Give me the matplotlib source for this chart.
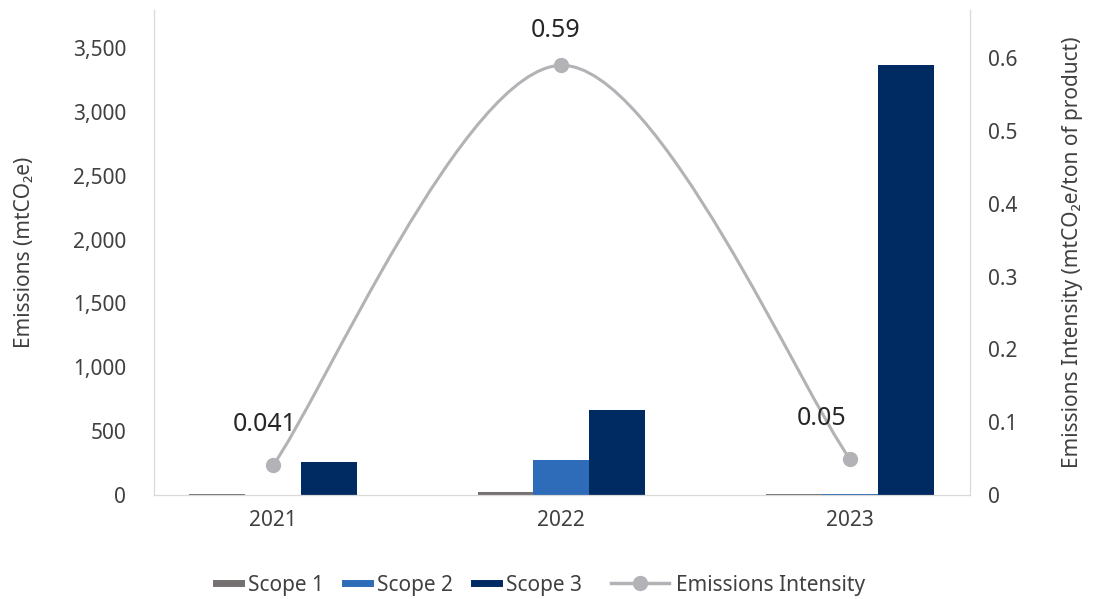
import numpy as np
import matplotlib
matplotlib.use("Agg")
import matplotlib.pyplot as plt
from matplotlib.path import Path
from matplotlib.patches import PathPatch
from matplotlib.lines import Line2D

plt.rcParams['font.family'] = ['Noto Sans', 'DejaVu Sans']

years = ['2021', '2022', '2023']
scope1 = [10, 25, 10]
scope2 = [3, 275, 6]
scope3 = [259, 668, 3365]
intensity = [0.041, 0.59, 0.05]
intensity_labels = ['0.041', '0.59', '0.05']

c1 = '#767171'
c2 = '#2E6BB8'
c3 = '#002B62'
cl = '#B3B3B7'
txt = '#404040'

fig = plt.figure(figsize=(10.93, 5.99), dpi=100)
ax = fig.add_axes([154 / 1093, 1 - 495 / 599, (970 - 154) / 1093, 485 / 599])
ax2 = ax.twinx()

x = np.arange(len(years))
w = 0.194
ax.bar(x - w, scope1, w, color=c1, zorder=2)
ax.bar(x, scope2, w, color=c2, zorder=2)
ax.bar(x + w, scope3, w, color=c3, zorder=2)

ax.set_xlim(-0.413, 2.417)
ax.set_ylim(0, 3797)
ax.set_yticks(np.arange(0, 3501, 500))
ax.set_yticklabels([f'{v:,}' for v in range(0, 3501, 500)])
ax.set_xticks(x)
ax.set_xticklabels(years)

ax2.set_ylim(0, 0.666)
ax2.set_yticks([0, 0.1, 0.2, 0.3, 0.4, 0.5, 0.6])
ax2.set_yticklabels(['0', '0.1', '0.2', '0.3', '0.4', '0.5', '0.6'])

# smoothed line (bezier through the data points, like Excel's smooth line)
pts = [(float(a), b) for a, b in zip(x, intensity)]
verts = [pts[0]]
codes = [Path.MOVETO]
for i in range(len(pts) - 1):
    p0 = pts[i - 1] if i > 0 else pts[i]
    p1 = pts[i]
    p2 = pts[i + 1]
    p3 = pts[i + 2] if i + 2 < len(pts) else pts[i + 1]
    k1 = (p1[0] + (p2[0] - p0[0]) / 6, p1[1] + (p2[1] - p0[1]) / 6)
    k2 = (p2[0] - (p3[0] - p1[0]) / 6, p2[1] - (p3[1] - p1[1]) / 6)
    verts += [k1, k2, p2]
    codes += [Path.CURVE4] * 3
ax2.add_patch(PathPatch(Path(verts, codes), facecolor='none', edgecolor=cl,
                        lw=2.2, zorder=3))
ax2.plot(x, intensity, 'o', color=cl, ms=10, zorder=4)

offs = [(-6, 29), (-4, 25), (-20, 29)]
for xi, yi, lab, (dx, dy) in zip(x, intensity, intensity_labels, offs):
    ax2.annotate(lab, (xi, yi), xytext=(dx, dy), textcoords='offset points',
                 ha='center', va='center', fontsize=18, color='#262626')

for a in (ax, ax2):
    a.spines['top'].set_visible(False)
    for s in ('left', 'right', 'bottom'):
        a.spines[s].set_color('#D9D9D9')
    a.tick_params(length=0, labelsize=15, colors=txt, pad=11)

ax.tick_params(axis='y', pad=20)
ax2.tick_params(axis='y', pad=13)

ax.set_ylabel('Emissions (mtCO₂e)', fontsize=15, color=txt)
ax2.set_ylabel('Emissions Intensity (mtCO₂e/ton of product)', fontsize=15,
               color=txt)
ax.yaxis.set_label_coords((35 - 154) / 816, 0.5)
ax2.yaxis.set_label_coords((1062 - 154) / 816, 0.5)

# legend in two pieces: short bar swatches, longer line swatch
bar_handles = [Line2D([], [], color=c, lw=5) for c in (c1, c2, c3)]
fig.legend(bar_handles, ['Scope 1', 'Scope 2', 'Scope 3'],
           loc='center left', bbox_to_anchor=(197 / 1093, 1 - 585 / 599),
           ncol=3, frameon=False, fontsize=15, labelcolor=txt,
           handlelength=1.2, handletextpad=0.35, columnspacing=1.0)
line_handle = Line2D([], [], color=cl, lw=2.5, marker='o', ms=10)
fig.legend([line_handle], ['Emissions Intensity'],
           loc='center left', bbox_to_anchor=(592 / 1093, 1 - 585 / 599),
           frameon=False, fontsize=15, labelcolor=txt,
           handlelength=2.8, handletextpad=0.35)

fig.savefig('out.png', dpi=100)
